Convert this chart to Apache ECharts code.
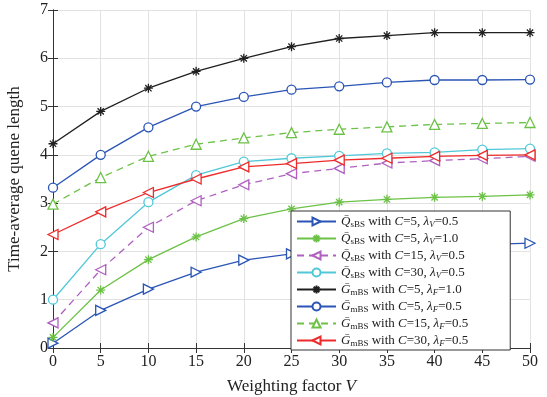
<!DOCTYPE html>
<html><head><meta charset="utf-8">
<script src="https://cdn.jsdelivr.net/npm/echarts@6/dist/echarts.min.js"></script>
<style>html,body{margin:0;padding:0;background:#fff}#c{width:547px;height:397px}</style>
</head><body><div id="c"></div>
<script>
const xValues = [0,5,10,15,20,25,30,35,40,45,50];
const xTicks = ['0','5','10','15','20','25','30','35','40','45','50'];
const yTicks = ['0','1','2','3','4','5','6','7'];
const qC5L05 = [0.10,0.78,1.22,1.57,1.82,1.95,2.03,2.08,2.11,2.14,2.17];
const qC5L10 = [0.22,1.20,1.83,2.30,2.68,2.88,3.02,3.08,3.12,3.14,3.17];
const qC15L05 = [0.52,1.62,2.50,3.05,3.38,3.61,3.72,3.83,3.88,3.92,3.97];
const qC30L05 = [1.00,2.15,3.02,3.58,3.86,3.93,3.98,4.03,4.05,4.11,4.13];
const gC5L10 = [4.23,4.90,5.38,5.73,6.00,6.24,6.41,6.47,6.53,6.53,6.53];
const gC5L05 = [3.32,4.00,4.57,5.00,5.20,5.35,5.42,5.50,5.55,5.55,5.56];
const gC15L05 = [2.98,3.53,3.97,4.22,4.35,4.46,4.53,4.58,4.63,4.65,4.67];
const gC30L05 = [2.35,2.82,3.22,3.50,3.75,3.82,3.89,3.93,3.97,3.99,4.00];
const legendNames = [
  'Q̄sBS with C=5, λV=0.5',
  'Q̄sBS with C=5, λV=1.0',
  'Q̄sBS with C=15, λV=0.5',
  'Q̄sBS with C=30, λV=0.5',
  'ḠmBS with C=5, λF=1.0',
  'ḠmBS with C=5, λF=0.5',
  'ḠmBS with C=15, λF=0.5',
  'ḠmBS with C=30, λF=0.5'
];
const legendRich = [
  '{i|Q̄}{s|sBS} with {i|C}=5, {i|λ}{si|V}=0.5',
  '{i|Q̄}{s|sBS} with {i|C}=5, {i|λ}{si|V}=1.0',
  '{i|Q̄}{s|sBS} with {i|C}=15, {i|λ}{si|V}=0.5',
  '{i|Q̄}{s|sBS} with {i|C}=30, {i|λ}{si|V}=0.5',
  '{i|Ḡ}{s|mBS} with {i|C}=5, {i|λ}{si|F}=1.0',
  '{i|Ḡ}{s|mBS} with {i|C}=5, {i|λ}{si|F}=0.5',
  '{i|Ḡ}{s|mBS} with {i|C}=15, {i|λ}{si|F}=0.5',
  '{i|Ḡ}{s|mBS} with {i|C}=30, {i|λ}{si|F}=0.5'
];
const BLUE='#2a55b5', GREEN='#6cc246', PURPLE='#b060c0', CYAN='#50c8d8', BLACK='#202020', RED='#ee2b2b';
const ASTER='path://M0,5L10,5M5,0L5,10M1.5,1.5L8.5,8.5M8.5,1.5L1.5,8.5';
const F='Liberation Serif';
function mk(name, data, color, symbol, rot, dashed, size){
  return {name, type:'line', data: xValues.map((x,i)=>[x,data[i]]),
    symbol, symbolSize:size||9, symbolRotate:rot||0, showSymbol:true,
    lineStyle:{color, width:1.3, type: dashed?[7,5]:'solid'},
    itemStyle:{color: symbol===ASTER?color:'#fff', borderColor:color, borderWidth:1.3},
    emphasis:{disabled:true}, z:2};
}
const series = [
  mk(legendNames[0], qC5L05, BLUE, 'triangle', -90, false, 10),
  mk(legendNames[1], qC5L10, GREEN, ASTER, 0, false, 9),
  mk(legendNames[2], qC15L05, PURPLE, 'triangle', 90, true, 10),
  mk(legendNames[3], qC30L05, CYAN, 'circle', 0, false, 9),
  mk(legendNames[4], gC5L10, BLACK, ASTER, 0, false, 9),
  mk(legendNames[5], gC5L05, BLUE, 'circle', 0, false, 9),
  mk(legendNames[6], gC15L05, GREEN, 'triangle', 0, true, 10),
  mk(legendNames[7], gC30L05, RED, 'triangle', 90, false, 10)
];
const chart = echarts.init(document.getElementById('c'), null, {renderer:'canvas'});
const axisCommon = {axisLine:{show:true,lineStyle:{color:'#333',width:1}}, axisTick:{show:true,inside:true,length:5,lineStyle:{color:'#333'}}};
chart.setOption({
  animation:false,
  backgroundColor:'#fff',
  grid:{left:53, right:17, top:10, bottom:49, containLabel:false, outerBoundsMode:'none'},
  xAxis:[
    Object.assign({type:'value', min:0, max:50, interval:5, position:'bottom',
      name:'Weighting factor {i|V}', nameLocation:'middle', nameGap:30,
      nameTextStyle:{fontFamily:F, fontSize:17, color:'#222', rich:{i:{fontFamily:F,fontStyle:'italic',fontSize:17,color:'#222'}}},
      axisLabel:{fontFamily:F, fontSize:16, color:'#222', margin:6, formatter:(v)=>xTicks[Math.round(v/5)]},
      splitLine:{show:true,lineStyle:{color:'#e2e2e2',width:1}}}, axisCommon),
    Object.assign({type:'value', min:0, max:50, interval:5, position:'top', axisLabel:{show:false}, splitLine:{show:false}}, axisCommon)
  ],
  yAxis:[
    Object.assign({type:'value', min:0, max:7, interval:1, position:'left',
      name:'Time-average quene length', nameLocation:'middle', nameGap:30,
      nameTextStyle:{fontFamily:F, fontSize:17, color:'#222'},
      axisLabel:{fontFamily:F, fontSize:16, color:'#222', margin:5, formatter:(v)=>yTicks[Math.round(v)]},
      splitLine:{show:true,lineStyle:{color:'#e2e2e2',width:1}}}, axisCommon),
    Object.assign({type:'value', min:0, max:7, interval:1, position:'right', axisLabel:{show:false}, splitLine:{show:false}}, axisCommon)
  ],
  legend:{
    orient:'vertical', left:291, top:211, data:legendNames,
    backgroundColor:'#fff', borderColor:'#333', borderWidth:1,
    padding:[3,42,2,5], itemGap:2, itemWidth:39, itemHeight:10,
    selectedMode:false,
    formatter:(n)=>legendRich[legendNames.indexOf(n)],
    textStyle:{fontFamily:F, fontSize:13, color:'#222', lineHeight:15,
      rich:{
        i:{fontFamily:F, fontStyle:'italic', fontSize:13, color:'#222'},
        s:{fontFamily:F, fontSize:9, color:'#222', verticalAlign:'bottom', lineHeight:8},
        si:{fontFamily:F, fontStyle:'italic', fontSize:9, color:'#222', verticalAlign:'bottom', lineHeight:8}
      }}
  },
  series
});
</script></body></html>
